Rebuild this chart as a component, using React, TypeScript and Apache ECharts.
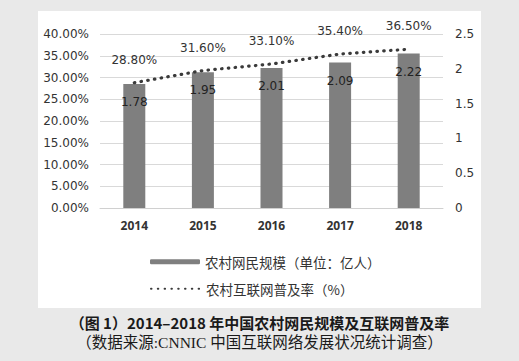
import React, { useEffect, useRef } from "react";
import * as echarts from "echarts";

const years = ["2014", "2015", "2016", "2017", "2018"];
const ruralUsers = [1.78, 1.95, 2.01, 2.09, 2.22];
const penetration = [0.288, 0.316, 0.331, 0.354, 0.365];
const barName = "农村网民规模（单位：亿人）";
const lineName = "农村互联网普及率（%）";
const caption1 = "（图 1）2014–2018 年中国农村网民规模及互联网普及率";
const caption2 = "（数据来源:CNNIC 中国互联网络发展状况统计调查）";

export default function App() {
  const ref = useRef<HTMLDivElement>(null);
  useEffect(() => {
    if (!ref.current) return;
    const chart = echarts.init(ref.current, undefined, { renderer: "svg" });
    const txt = "#333333";
    chart.setOption({
      animation: false,
      backgroundColor: "#e9e9e9",
      textStyle: { fontFamily: "DejaVu Sans, Noto Sans CJK SC" },
      graphic: [
        { type: "rect", z: -10, shape: { x: 38, y: 11, width: 443, height: 297 }, style: { fill: "#ffffff" } },
        {
          type: "text", left: "center", top: 315,
          style: { text: caption1, fontSize: 15, fontWeight: "bold", fill: "#1a1a1a", fontFamily: "Noto Sans CJK SC" },
        },
        {
          type: "text", left: "center", top: 335,
          style: { text: caption2, fontSize: 15.5, fill: "#1a1a1a", fontFamily: "Liberation Serif, Noto Sans CJK SC" },
        },
      ],
      legend: [
        {
          left: 145, top: 250, itemWidth: 50, itemHeight: 5, itemGap: 9,
          data: [barName],
          textStyle: { fontSize: 13.5, color: txt, fontFamily: "Noto Sans CJK SC" },
        },
        {
          left: 145, top: 277, itemWidth: 50, itemHeight: 14, itemGap: 9,
          data: [lineName],
          itemStyle: { opacity: 0 },
          textStyle: { fontSize: 13.5, color: txt, fontFamily: "Noto Sans CJK SC" },
        },
      ],
      grid: { left: 100, right: 76, top: 34, bottom: 153 },
      xAxis: {
        type: "category",
        data: years,
        axisLine: { lineStyle: { color: "#d0d0d0" } },
        axisTick: { show: false },
        axisLabel: { color: txt, fontSize: 12, fontWeight: "bold", fontFamily: "Open Sans", margin: 11 },
      },
      yAxis: [
        {
          type: "value", min: 0, max: 0.4, interval: 0.05,
          axisLabel: { color: txt, fontSize: 12, margin: 11, formatter: (v: number) => (v * 100).toFixed(2) + "%" },
          splitLine: { lineStyle: { color: "#d9d9d9" } },
          axisLine: { show: false }, axisTick: { show: false },
        },
        {
          type: "value", min: 0, max: 2.5, interval: 0.5,
          axisLabel: { color: txt, fontSize: 12, margin: 12 },
          splitLine: { show: false },
          axisLine: { show: false }, axisTick: { show: false },
        },
      ],
      series: [
        {
          name: barName, type: "bar", yAxisIndex: 1, data: ruralUsers, barWidth: 22,
          itemStyle: { color: "#7f7f7f" },
          label: { show: true, position: "insideTop", distance: 12, color: "#222", fontSize: 12 },
          z: 2,
        },
        {
          name: lineName, type: "line", yAxisIndex: 0, data: penetration,
          symbol: "circle", symbolSize: 0.01, showSymbol: true,
          lineStyle: { color: "#3a3a3a", width: 3.2, type: [0.5, 6.3], cap: "round" },
          itemStyle: { color: "#3a3a3a" },
          label: {
            show: true, position: "top", distance: 17, color: txt, fontSize: 12,
            formatter: (p: any) => (p.value * 100).toFixed(2) + "%",
          },
          z: 3,
        },
      ],
    });
    return () => chart.dispose();
  }, []);
  return <div ref={ref} style={{ position: "fixed", left: 0, top: 0, width: 519, height: 361 }} />;
}
